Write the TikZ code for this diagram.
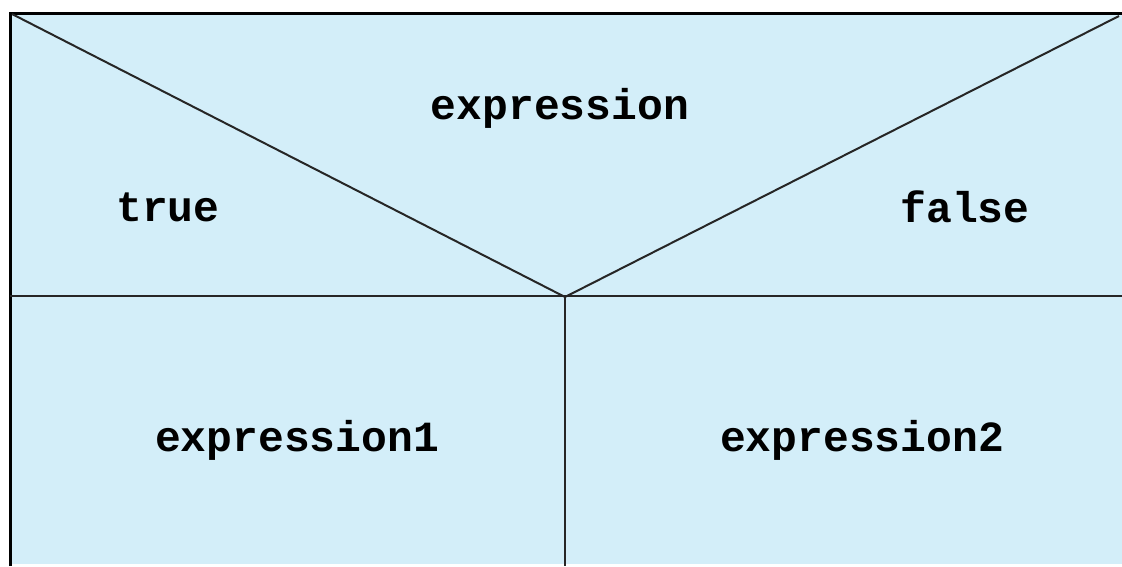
\documentclass[tikz,border=0pt]{standalone}
\usepackage{fontspec}
\setmonofont{Liberation Mono}
\definecolor{cellfill}{RGB}{211,238,249}
\begin{document}
\begin{tikzpicture}[x=1pt,y=-1pt,
  lbl/.style={font=\ttfamily\bfseries\fontsize{43}{43}\selectfont, inner sep=0pt, text=black},
  edge/.style={line width=2pt, draw=black!85}]
\useasboundingbox (0,0) rectangle (1122,566);
\fill[white] (0,0) rectangle (1122,566);
\fill[cellfill] (10,13) rectangle (1122,564);
\coordinate (tl) at (10,13);
\coordinate (tr) at (1122,13);
\coordinate (bl) at (10,566);
\coordinate (dl) at (12,14);
\coordinate (dr) at (1119,16);
\coordinate (apex) at (565,297);
\coordinate (hl) at (10,296);
\coordinate (hr) at (1122,296);
\coordinate (vb) at (565,566);
\draw[line width=3pt] (bl) -- (tl) -- (tr);
\draw[edge] (dl) -- (apex) -- (dr);
\draw[edge] (hl) -- (hr);
\draw[edge] (apex) -- (vb);
\node[lbl] (expr) at (560,108) {expression};
\node[lbl] (tru) at (168,207) {true};
\node[lbl] (fls) at (965,207) {false};
\node[lbl] (e1) at (297,440) {expression1};
\node[lbl] (e2) at (862,440) {expression2};
\end{tikzpicture}
\end{document}
